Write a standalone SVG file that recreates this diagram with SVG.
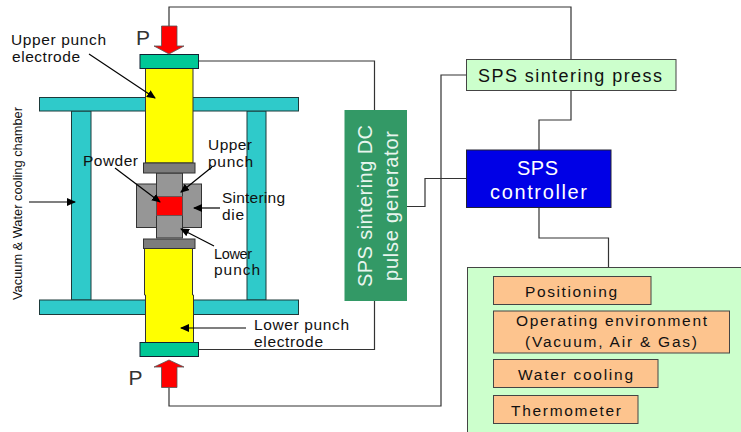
<svg xmlns="http://www.w3.org/2000/svg" width="741" height="432" viewBox="0 0 741 432">
<style>
text{font-family:"Liberation Sans",Arial,sans-serif;fill:#111}
.lb{font-size:15.500px}
.teal{fill:#2fcaca;stroke:#1d3a3a;stroke-width:1}
.yel{fill:#ffff00;stroke:#333;stroke-width:1}
.grn{fill:#00c896;stroke:#123;stroke-width:1}
.gry{fill:#969696;stroke:#333;stroke-width:1}
.dgy{fill:#7c7c7c;stroke:#333;stroke-width:1}
.red{fill:#ff0000;stroke:#555;stroke-width:.8}
.org{fill:#fdc48e;stroke:#444;stroke-width:1}
.wire{fill:none;stroke:#333;stroke-width:1.2}
.ptr{fill:none;stroke:#000;stroke-width:1.2;marker-end:url(#ah)}
</style>
<defs><marker id="ah" markerUnits="userSpaceOnUse" markerWidth="9" markerHeight="8" refX="8" refY="4" orient="auto"><path d="M0,0L9,4L0,8Z" fill="#000"/></marker></defs>
<rect width="741" height="432" fill="#fff"/>
<g id="connectors">
<path class="wire" d="M169,26V7H571V59.5"/>
<path class="wire" d="M198,61H374.5V110"/>
<path class="wire" d="M374.5,301V349.5H198"/>
<path class="wire" d="M169,387.5V406H441V75H466"/>
<path class="wire" d="M571,90.5V120H539V150"/>
<path class="wire" d="M407,206.5H425V178.5H466.5"/>
<path class="wire" d="M539,207.5V238H608.5V267.5"/>
</g>
<g id="chamber">
<rect class="teal" x="71.500" y="111" width="19.500" height="189"/>
<rect class="teal" x="247" y="111" width="19" height="189"/>
<rect class="teal" x="39.500" y="97.500" width="259" height="13.500"/>
<rect class="teal" x="39.500" y="300" width="259" height="14.500"/>
<text transform="translate(22,300) rotate(-90)" font-size="13" textLength="193" lengthAdjust="spacingAndGlyphs">Vacuum &amp; Water cooling chamber</text>
</g>
<g id="upper-electrode">
<rect class="yel" x="145.500" y="68" width="47.500" height="95"/>
<rect class="grn" x="140" y="54.500" width="58.500" height="14"/>
<text class="lb" x="11" y="45" textLength="95">Upper punch</text>
<text class="lb" x="12" y="62" textLength="68">electrode</text>
</g>
<g id="lower-electrode">
<path class="yel" d="M144.500,248H192.500V295H193.500V342.500H145.500V295H144.500Z"/>
<rect class="grn" x="140" y="342.500" width="58.500" height="14"/>
<text class="lb" x="254" y="330" textLength="95">Lower punch</text>
<text class="lb" x="254" y="347" textLength="69">electrode</text>
</g>
<g id="sintering-die">
<rect class="gry" x="136.500" y="184" width="65" height="43.500"/>
<rect class="gry" x="156.500" y="173" width="26" height="65"/>
<rect class="red" x="156.500" y="196.500" width="26" height="19" stroke="none"/>
<rect class="dgy" x="143.500" y="163" width="51.500" height="10"/>
<rect class="dgy" x="143.500" y="239" width="51.500" height="9.500"/>
<text class="lb" x="83" y="166" textLength="55">Powder</text>
<text class="lb" x="208" y="150" textLength="44">Upper</text>
<text class="lb" x="208" y="167" textLength="45">punch</text>
<text class="lb" x="222" y="203" textLength="63">Sintering</text>
<text class="lb" x="222" y="220" textLength="22">die</text>
<text x="214" y="259" font-size="14.500" textLength="38">Lower</text>
<text class="lb" x="214" y="275" textLength="46">punch</text>
</g>
<g id="press-arrows">
<path class="red" d="M161.500,26H177V46H184L169,54L154,46H161.500Z"/>
<path class="red" d="M161.500,387.500H177V367H184L169,360L154,367H161.500Z"/>
<text x="136" y="45" font-size="21" style="fill:#333">P</text>
<text x="128.500" y="385" font-size="21" style="fill:#333">P</text>
</g>
<g id="pointers">
<path class="ptr" d="M89,54L155,98"/>
<path class="ptr" d="M115,168L160,202"/>
<path class="ptr" d="M212,167L181,192"/>
<path class="ptr" d="M220,208H194"/>
<path class="ptr" d="M214,246L181,229"/>
<path class="ptr" d="M246,328H181"/>
<path class="ptr" d="M29,202H75"/>
</g>
<g id="pulse-generator">
<rect x="344.500" y="110" width="62.500" height="191" fill="#339966"/>
<text transform="translate(372,287) rotate(-90)" font-size="20" style="fill:#e8f5ee" textLength="162">SPS sintering DC</text>
<text transform="translate(398,281) rotate(-90)" font-size="20" style="fill:#e8f5ee" textLength="150">pulse generator</text>
</g>
<g id="sintering-press">
<rect x="466.500" y="59.500" width="209.500" height="31" fill="#ccffcc" stroke="#444"/>
<text x="478" y="82" font-size="18" textLength="184">SPS sintering press</text>
</g>
<g id="controller">
<rect x="466.500" y="150" width="144.500" height="57.500" fill="#0000e6" stroke="#223"/>
<text x="517" y="175" font-size="20" style="fill:#fff" textLength="41">SPS</text>
<text x="490" y="199" font-size="20" style="fill:#fff" textLength="97">controller</text>
</g>
<g id="control-panel">
<rect x="467.500" y="267.500" width="280" height="170" fill="#ccffcc" stroke="#444"/>
</g>
<g id="positioning">
<rect class="org" x="493.500" y="276.500" width="157.500" height="28"/>
<text class="lb" x="525" y="297" textLength="92">Positioning</text>
</g>
<g id="operating-environment">
<rect class="org" x="493.500" y="311" width="236" height="42"/>
<text class="lb" x="516" y="326" textLength="191">Operating environment</text>
<text class="lb" x="525" y="347" textLength="172">(Vacuum, Air &amp; Gas)</text>
</g>
<g id="water-cooling">
<rect class="org" x="493.500" y="359.500" width="164.500" height="28"/>
<text class="lb" x="518" y="380" textLength="115">Water cooling</text>
</g>
<g id="thermometer">
<rect class="org" x="493.500" y="395.500" width="144.500" height="28"/>
<text class="lb" x="511" y="416" textLength="110">Thermometer</text>
</g>
</svg>
